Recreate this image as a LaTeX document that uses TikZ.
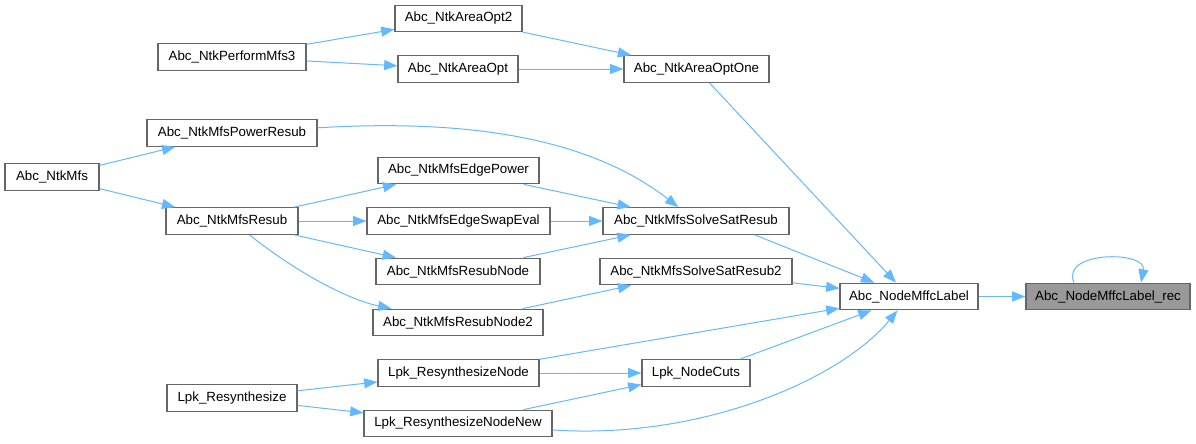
\documentclass[tikz,border=0pt]{standalone}
\usepackage{fontspec}
\setmainfont{Liberation Sans}
\usetikzlibrary{arrows.meta,calc}
\definecolor{edgeblue}{HTML}{63B8FF}
\definecolor{boxgrey}{HTML}{666666}
\definecolor{rootgrey}{HTML}{999999}
\begin{document}
\begin{tikzpicture}[
    x=0.75pt, y=-0.75pt,
    func_box/.style={rectangle, draw=boxgrey, line width=0.8pt, fill=white, inner sep=0pt, minimum height=20pt, text centered, font=\fontsize{10}{12}\selectfont},
    root_box/.style={func_box, fill=rootgrey},
    call_edge/.style={draw=edgeblue, line width=0.75pt, -{Triangle[length=10pt,width=7.5pt]}}
]
\useasboundingbox (0,0) rectangle (1196,443);

% callers, left to right
\node[func_box, minimum width=111pt] (pmfs3) at (232,57) {Abc\_NtkPerformMfs3};
\node[func_box, minimum width=127.5pt] (powres) at (232,133) {Abc\_NtkMfsPowerResub};
\node[func_box, minimum width=70.5pt] (ntkmfs) at (52,177) {Abc\_NtkMfs};
\node[func_box, minimum width=99pt] (mfsres) at (232,221) {Abc\_NtkMfsResub};
\node[func_box, minimum width=97.5pt] (lpkres) at (232,398) {Lpk\_Resynthesize};

\node[func_box, minimum width=95.25pt] (aopt2) at (458.5,18.5) {Abc\_NtkAreaOpt2};
\node[func_box, minimum width=90pt] (aopt) at (458,69) {Abc\_NtkAreaOpt};
\node[func_box, minimum width=120.75pt] (edgepow) at (458.5,170.5) {Abc\_NtkMfsEdgePower};
\node[func_box, minimum width=137.25pt] (swapeval) at (458.5,221) {Abc\_NtkMfsEdgeSwapEval};
\node[func_box, minimum width=123pt] (resnode) at (458,271.5) {Abc\_NtkMfsResubNode};
\node[func_box, minimum width=127.5pt] (resnode2) at (458,322.5) {Abc\_NtkMfsResubNode2};
\node[func_box, minimum width=120.75pt] (synnode) at (458.5,373) {Lpk\_ResynthesizeNode};
\node[func_box, minimum width=141pt] (synnew) at (458,423.5) {Lpk\_ResynthesizeNodeNew};

\node[func_box, minimum width=108.75pt] (aoptone) at (696.5,69) {Abc\_NtkAreaOptOne};
\node[func_box, minimum width=139.5pt] (satres) at (696,221) {Abc\_NtkMfsSolveSatResub};
\node[func_box, minimum width=144pt] (satres2) at (696,271.5) {Abc\_NtkMfsSolveSatResub2};
\node[func_box, minimum width=81pt] (cuts) at (696,373) {Lpk\_NodeCuts};

\node[func_box, minimum width=103.5pt] (mffc) at (909,296.5) {Abc\_NodeMffcLabel};
\node[root_box, minimum width=123pt] (mffcrec) at (1108,296.5) {Abc\_NodeMffcLabel\_rec};

% calls
\draw[call_edge] (pmfs3) -- (aopt2);
\draw[call_edge] (pmfs3) -- (aopt);
\draw[call_edge] (aopt2) -- (aoptone);
\draw[call_edge] (aopt) -- (aoptone);
\draw[call_edge] (aoptone) -- (mffc);

\draw[call_edge] (ntkmfs) -- (powres);
\draw[call_edge] (ntkmfs) -- (mfsres);
\draw[call_edge] (powres) .. controls (480,118) and (595,142) .. (satres);
\draw[call_edge] (mfsres) -- (edgepow);
\draw[call_edge] (mfsres) -- (swapeval);
\draw[call_edge] (mfsres) -- (resnode);
\draw[call_edge] (mfsres) .. controls (300,275) and (350,300) .. (resnode2);
\draw[call_edge] (edgepow) -- (satres);
\draw[call_edge] (swapeval) -- (satres);
\draw[call_edge] (resnode) -- (satres);
\draw[call_edge] (resnode2) -- (satres2);
\draw[call_edge] ([xshift=44pt]satres.south) -- (mffc);
\draw[call_edge] (satres2) -- (mffc);

\draw[call_edge] (lpkres) -- (synnode);
\draw[call_edge] (lpkres) -- (synnew);
\draw[call_edge] (synnode) -- (cuts);
\draw[call_edge] (synnew) -- (cuts);
\draw[call_edge] (synnode) -- (mffc);
\draw[call_edge] ([xshift=33pt]cuts.north) -- (mffc);
\draw[call_edge] (synnew) .. controls (700,440) and (840,380) .. (mffc);

\draw[call_edge] (mffc) -- (mffcrec);
\draw[call_edge] ($(mffcrec.north)+(-34,0)$) .. controls +(-14,-32) and +(6,-32) .. ($(mffcrec.north)+(33,0)$);
\end{tikzpicture}
\end{document}
